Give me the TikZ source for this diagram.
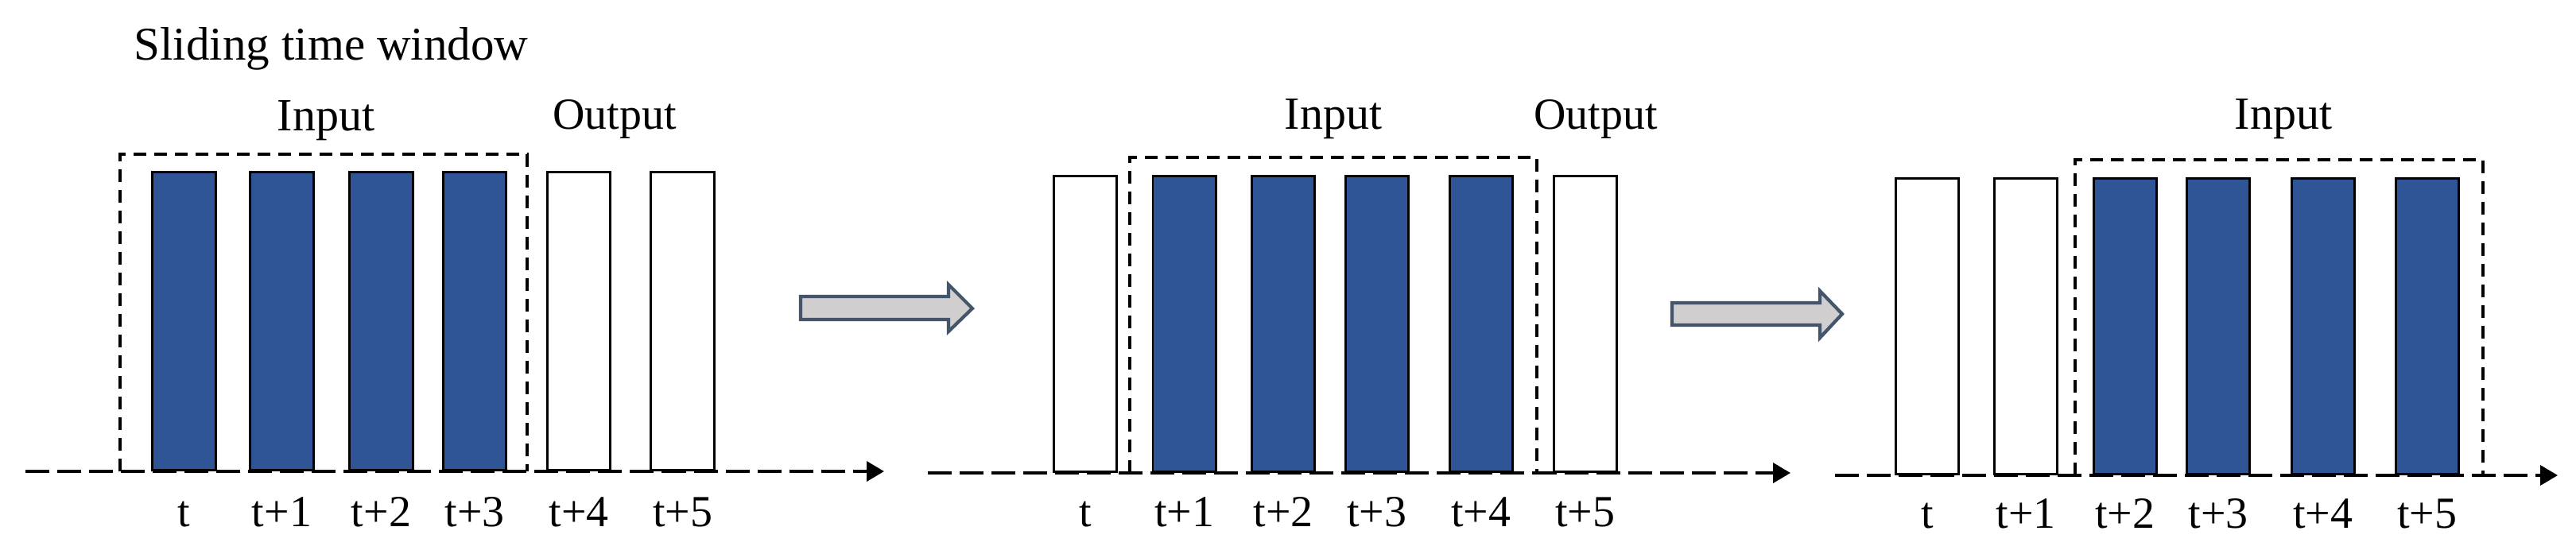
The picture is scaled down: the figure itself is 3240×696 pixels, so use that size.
\documentclass[tikz,border=0pt]{standalone}
\usepackage{fontspec}
\setmainfont{Liberation Serif}
\usetikzlibrary{arrows.meta}
\definecolor{barblue}{RGB}{47,85,151}
\definecolor{arrowgray}{RGB}{208,206,206}
\definecolor{arrowedge}{RGB}{68,84,106}
\begin{document}
\begin{tikzpicture}[x=0.01cm,y=-0.01cm,
  font=\fontsize{15.9pt}{19pt}\selectfont,
  barbase/.style={draw=black,line width=0.85pt,minimum width=0.79cm,inner sep=0pt,anchor=south},
  inbar/.style={barbase,fill=barblue},
  outbar/.style={barbase,fill=white},
  winbox/.style={draw=black,line width=0.95pt,dash pattern=on 0.16cm off 0.10cm},
  timeaxis/.style={draw=black,line width=1.1pt,dash pattern=on 0.30cm off 0.10cm,-{Triangle[length=0.22cm,width=0.25cm]}},
  lbl/.style={anchor=base,inner sep=0pt},
  shiftarrow/.style={draw=arrowedge,fill=arrowgray,line width=1.2pt,line join=miter}
]
\useasboundingbox (0,0) rectangle (3240,696);

% ---------- Panel 1 ----------
\node[lbl,anchor=base west,font=\fontsize{16.8pt}{20pt}\selectfont] (title) at (168,75) {Sliding time window};
\coordinate (a1s) at (32,593);
\coordinate (a1e) at (1112,593);
\draw[timeaxis] (a1s) -- (a1e);
\draw[winbox] (151,593) |- (663,194) -- (663,593);
\foreach \n/\x/\s in {1/231.5/inbar,2/354.5/inbar,3/479.5/inbar,4/597/inbar,5/728/outbar,6/858.5/outbar}{
  \node[\s,minimum height=3.75cm] (p1b\n) at (\x,593) {};
}
\node[lbl,font=\fontsize{16.5pt}{20pt}\selectfont] (p1in) at (410,164) {Input};
\node[lbl] (p1out) at (773,162) {Output};
\foreach \n/\t in {1/t,2/t+1,3/t+2,4/t+3,5/t+4,6/t+5}{
  \node[lbl] (p1l\n) at (p1b\n.south |- 0,662) {\t};
}

% ---------- Arrow 1 ----------
\draw[shiftarrow] (1007,373) -- (1193,373) -- (1193,358) -- (1223,388) -- (1193,417) -- (1193,402) -- (1007,402) -- cycle;

% ---------- Panel 2 ----------
\coordinate (a2s) at (1167,595);
\coordinate (a2e) at (2252,595);
\draw[timeaxis] (a2s) -- (a2e);
\draw[winbox] (1421,595) |- (1933,198) -- (1933,595);
\foreach \n/\x/\s in {1/1365/outbar,2/1489.5/inbar,3/1614/inbar,4/1731.5/inbar,5/1862.5/inbar,6/1993.5/outbar}{
  \node[\s,minimum height=3.72cm] (p2b\n) at (\x,595) {};
}
\node[lbl,font=\fontsize{16.5pt}{20pt}\selectfont] (p2in) at (1677,162) {Input};
\node[lbl] (p2out) at (2007,162) {Output};
\foreach \n/\t in {1/t,2/t+1,3/t+2,4/t+3,5/t+4,6/t+5}{
  \node[lbl] (p2l\n) at (p2b\n.south |- 0,662) {\t};
}

% ---------- Arrow 2 ----------
\draw[shiftarrow] (2103,381) -- (2289,381) -- (2289,366) -- (2317,395) -- (2289,425) -- (2289,409) -- (2103,409) -- cycle;

% ---------- Panel 3 ----------
\coordinate (a3s) at (2308,598);
\coordinate (a3e) at (3217,598);
\draw[timeaxis] (a3s) -- (a3e);
\draw[winbox] (2610,598) |- (3123,201) -- (3123,598);
\foreach \n/\x/\s in {1/2424/outbar,2/2548/outbar,3/2672.5/inbar,4/2790/inbar,5/2921.5/inbar,6/3052.5/inbar}{
  \node[\s,minimum height=3.72cm] (p3b\n) at (\x,598) {};
}
\node[lbl,font=\fontsize{16.5pt}{20pt}\selectfont] (p3in) at (2872,162) {Input};
\foreach \n/\t in {1/t,2/t+1,3/t+2,4/t+3,5/t+4,6/t+5}{
  \node[lbl] (p3l\n) at (p3b\n.south |- 0,664) {\t};
}
\end{tikzpicture}
\end{document}
